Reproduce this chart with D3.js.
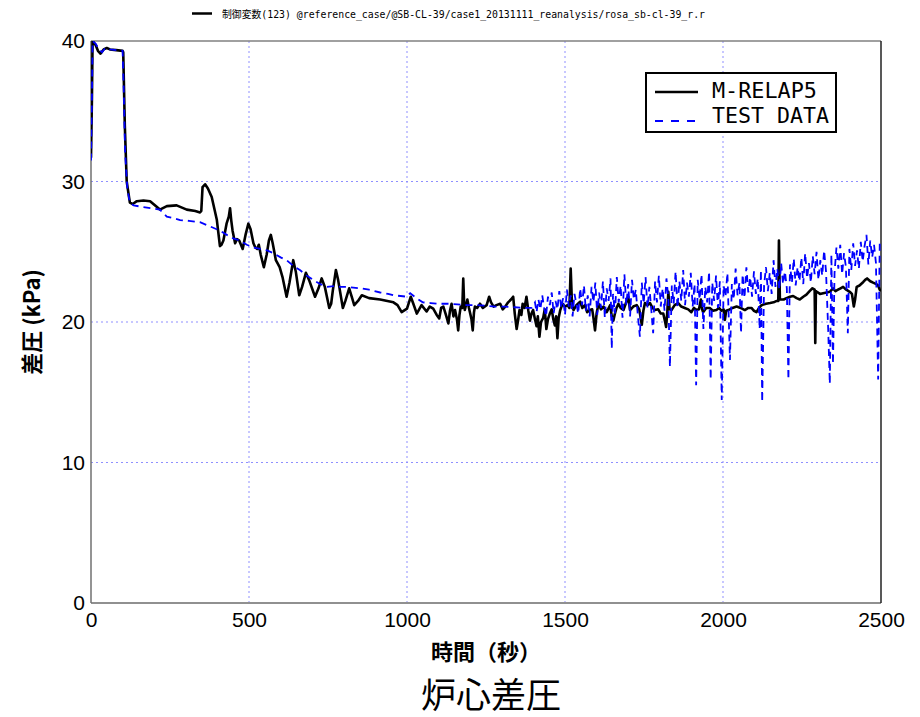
<!DOCTYPE html>
<html><head><meta charset="utf-8">
<script src="https://cdn.jsdelivr.net/npm/d3@7"></script>
<style>
html,body{margin:0;padding:0;background:#fff;}
svg{display:block;}
</style>
</head><body>
<svg id="chart" width="920" height="717"></svg>
<script>
// ---- data ----
const xTicks = [0, 500, 1000, 1500, 2000, 2500];
const yTicks = [0, 10, 20, 30, 40];
const seriesNames = ["M-RELAP5", "TEST DATA"];
const headerText = "制御変数(123) @reference_case/@SB-CL-39/case1_20131111_reanalysis/rosa_sb-cl-39_r.r";
const xLabel = "時間（秒）";
const yLabel = "差圧 (kPa)";
const chartTitle = "炉心差圧";

const relap = [[0,31.7],[3,36],[5,40.0],[15,39.7],[22,39.3],[30,39.1],[40,39.4],[50,39.5],[60,39.4],[80,39.35],[100,39.3],[102,39.2],[107,34],[113,30],[123,28.5],[132,28.4],[145,28.6],[166,28.65],[187,28.6],[205,28.25],[218,28.0],[240,28.25],[271,28.3],[303,28.0],[330,27.9],[345,27.8],[349,27.9],[353,29.6],[361,29.8],[370,29.5],[382,28.9],[390,28.1],[398,27.3],[408,25.4],[413,25.5],[419,25.8],[429,27.0],[436,27.5],[440,28.1],[444,27.2],[448,26.5],[456,25.6],[462,25.9],[469,25.8],[480,25.2],[489,26.2],[498,27.0],[505,26.6],[514,25.6],[520,25.3],[526,25.2],[531,25.5],[537,24.8],[547,23.9],[556,24.8],[563,25.8],[569,26.2],[575,25.6],[585,24.4],[597,23.9],[606,23.2],[619,21.8],[628,22.8],[640,24.4],[648,23.6],[659,21.9],[668,22.5],[680,23.5],[690,23.0],[709,21.8],[720,22.4],[730,23.1],[740,22.5],[754,21.0],[760,21.3],[765,22.2],[775,23.7],[782,23.0],[797,21.0],[805,21.5],[817,22.4],[825,21.8],[833,21.2],[845,21.5],[857,21.9],[880,21.7],[915,21.6],[957,21.4],[970,21.2],[983,20.7],[1000,20.95],[1012,21.8],[1020,21.3],[1031,20.6],[1046,21.2],[1062,20.75],[1072,21.1],[1083,20.95],[1094,20.5],[1102,20.25],[1108,21.0],[1115,21.1],[1122,20.6],[1131,19.9],[1136,20.8],[1141,21.3],[1147,20.4],[1152,20.85],[1158,20.2],[1162,19.4],[1166,20.5],[1170,21.1],[1175,21.0],[1178,23.1],[1181,21.2],[1183,20.85],[1191,21.6],[1196,21.0],[1200,20.6],[1204,20.2],[1208,19.4],[1212,20.7],[1215,21.1],[1222,21.0],[1231,21.3],[1240,21.0],[1252,21.2],[1260,21.8],[1266,21.4],[1274,21.1],[1283,21.2],[1295,21.3],[1303,20.9],[1311,21.1],[1320,21.4],[1329,21.6],[1336,21.8],[1341,20.6],[1347,19.5],[1352,20.2],[1356,20.85],[1362,20.5],[1366,21.3],[1372,21.0],[1378,21.8],[1384,20.8],[1389,20.1],[1394,20.6],[1399,20.85],[1404,20.3],[1410,19.7],[1414,20.4],[1419,18.95],[1424,20.0],[1431,20.3],[1436,20.9],[1441,19.5],[1446,20.2],[1452,20.6],[1458,20.9],[1463,20.2],[1468,19.75],[1472,20.4],[1476,18.85],[1480,20.3],[1485,20.85],[1492,21.3],[1500,21.1],[1508,21.2],[1514,21.0],[1518,23.8],[1522,21.3],[1527,20.85],[1536,21.2],[1548,21.45],[1555,21.0],[1563,21.2],[1570,20.7],[1579,20.85],[1586,20.9],[1590,20.3],[1595,19.4],[1600,20.6],[1606,21.3],[1614,20.9],[1622,21.1],[1632,20.7],[1643,21.2],[1648,20.4],[1653,20.1],[1658,20.6],[1663,21.0],[1669,21.3],[1676,21.0],[1685,20.85],[1692,21.3],[1700,21.8],[1706,20.85],[1716,21.1],[1727,21.2],[1735,20.9],[1743,19.8],[1748,20.8],[1753,21.35],[1761,21.2],[1769,21.35],[1777,21.0],[1785,20.85],[1795,20.9],[1803,20.6],[1811,20.6],[1816,20.1],[1820,19.65],[1824,20.8],[1827,22.15],[1831,20.9],[1837,20.85],[1847,21.2],[1858,21.35],[1868,21.1],[1879,21.0],[1890,20.9],[1900,20.7],[1908,21.0],[1916,20.85],[1924,20.9],[1930,21.6],[1934,20.9],[1937,20.7],[1947,21.0],[1958,21.0],[1968,20.8],[1979,20.85],[1988,21.0],[1995,20.8],[2002,20.9],[2006,20.15],[2010,20.8],[2017,20.85],[2030,21.0],[2043,21.1],[2056,21.0],[2069,20.85],[2080,21.0],[2090,21.0],[2098,20.8],[2106,20.7],[2114,21.0],[2122,21.2],[2136,21.3],[2149,21.35],[2160,21.4],[2170,21.5],[2175,21.5],[2177,25.8],[2180,21.6],[2183,21.6],[2192,21.6],[2201,21.7],[2212,21.8],[2222,21.85],[2233,21.7],[2243,21.6],[2254,21.8],[2264,21.95],[2274,22.2],[2283,22.4],[2290,22.3],[2292,18.5],[2294,22.2],[2297,22.15],[2307,22.0],[2317,22.05],[2328,22.1],[2338,22.15],[2348,22.4],[2356,22.2],[2364,22.3],[2372,22.4],[2380,22.5],[2390,22.3],[2401,22.15],[2408,22.0],[2414,21.1],[2418,21.6],[2423,22.5],[2432,22.6],[2444,22.85],[2450,23.0],[2456,23.1],[2466,22.9],[2475,22.8],[2485,22.7],[2491,22.6],[2496,22.3],[2500,22.2]];

const testData = [[0,31.5],[3,36],[5,40.0],[15,39.8],[25,39.4],[35,39.2],[45,39.5],[60,39.4],[80,39.35],[100,39.3],[103,37],[108,32],[115,29.5],[123,28.5],[135,28.3],[160,28.2],[190,28.1],[218,28.0],[240,27.5],[260,27.4],[282,27.25],[310,27.2],[345,27.1],[377,26.8],[408,26.5],[430,26.2],[450,25.95],[470,25.8],[493,25.5],[515,25.3],[536,25.2],[557,25.1],[577,24.9],[600,24.6],[619,24.4],[640,24.0],[661,23.7],[683,23.3],[703,23.0],[725,22.7],[746,22.5],[770,22.55],[790,22.5],[810,22.5],[830,22.45],[852,22.4],[880,22.3],[915,22.1],[940,22.0],[957,21.9],[980,21.85],[999,21.8],[1010,22.05],[1030,21.7],[1050,21.4],[1075,21.35],[1100,21.3],[1130,21.3],[1160,21.25],[1190,21.2],[1220,21.2],[1250,21.15],[1280,21.1],[1310,21.1],[1340,21.05],[1370,21.0],[1395,21.0],[1405,21.4],[1410,20.7],[1416,21.6],[1422,20.9],[1428,21.9],[1434,21.0],[1440,20.4],[1446,21.8],[1452,21.2],[1458,22.1],[1464,20.6],[1470,21.5],[1476,20.9],[1482,22.2],[1488,21.0],[1494,21.7],[1500,20.5],[1506,22.3],[1512,21.1],[1518,21.9],[1524,20.4],[1530,22.0],[1536,21.3],[1542,20.6],[1548,22.4],[1554,21.2],[1560,22.6],[1566,20.8],[1572,21.9],[1578,20.4],[1584,22.5],[1590,21.4],[1596,22.8],[1602,20.5],[1608,22.1],[1614,21.0],[1620,22.9],[1626,20.3],[1632,22.4],[1638,21.5],[1644,23.1],[1648,18.1],[1652,22.0],[1658,20.6],[1664,23.2],[1670,21.4],[1676,22.6],[1682,20.3],[1688,23.4],[1694,21.2],[1700,22.7],[1706,20.4],[1712,23.0],[1718,21.6],[1724,22.3],[1730,20.6],[1737,18.95],[1743,22.8],[1749,21.3],[1755,23.2],[1761,21.0],[1767,22.5],[1773,20.9],[1779,19.2],[1785,22.9],[1791,21.4],[1797,23.3],[1803,21.1],[1809,22.4],[1815,20.8],[1821,23.1],[1827,21.7],[1832,16.8],[1838,22.6],[1844,21.3],[1850,23.6],[1856,21.0],[1862,22.9],[1868,21.5],[1874,23.7],[1880,21.2],[1886,22.8],[1892,21.8],[1898,23.5],[1904,21.1],[1910,22.7],[1915,15.5],[1920,23.0],[1926,21.6],[1932,23.4],[1938,19.5],[1944,22.5],[1950,21.4],[1956,23.6],[1961,15.9],[1966,22.8],[1972,21.5],[1978,23.3],[1984,21.0],[1990,22.9],[1996,14.45],[2002,22.6],[2008,21.8],[2014,23.5],[2022,17.3],[2028,22.7],[2034,21.6],[2040,23.8],[2046,21.9],[2052,22.8],[2057,19.2],[2062,23.4],[2068,21.7],[2074,23.9],[2080,22.1],[2086,23.2],[2092,21.8],[2098,23.6],[2104,22.0],[2110,23.1],[2116,19.5],[2120,23.7],[2124,14.3],[2130,22.6],[2136,23.9],[2142,22.2],[2148,23.5],[2154,22.0],[2160,24.4],[2166,22.5],[2172,23.8],[2178,22.3],[2184,24.2],[2190,22.7],[2196,23.6],[2202,22.4],[2207,15.9],[2212,24.1],[2218,22.8],[2224,24.5],[2230,22.6],[2236,23.9],[2242,22.9],[2248,24.6],[2254,22.7],[2260,24.9],[2266,23.1],[2272,24.2],[2278,22.8],[2284,24.7],[2290,23.4],[2296,25.0],[2302,23.0],[2308,24.4],[2314,23.3],[2320,25.1],[2326,23.6],[2333,19.4],[2338,15.6],[2343,24.8],[2348,17.0],[2353,23.5],[2359,25.3],[2365,23.8],[2371,25.5],[2377,23.4],[2383,24.9],[2389,23.9],[2395,19.2],[2400,25.2],[2406,23.7],[2412,25.6],[2418,24.0],[2424,25.1],[2430,23.8],[2436,25.7],[2442,24.3],[2448,25.4],[2454,26.2],[2460,24.1],[2466,25.8],[2472,24.6],[2478,25.5],[2484,24.2],[2491,15.9],[2496,25.6],[2500,25.3]];

// ---- layout ----
const svg = d3.select("#chart");
const L = 91, R = 881, T = 41, B = 603;
const x = d3.scaleLinear().domain([0, 2500]).range([L, R]);
const y = d3.scaleLinear().domain([0, 40]).range([B, T]);

svg.append("defs").append("clipPath").attr("id", "clip")
  .append("rect").attr("x", L).attr("y", T).attr("width", R - L).attr("height", B - T);

// grid
const grid = svg.append("g");
grid.selectAll("line.vx").data(xTicks.filter(d => d > 0 && d < 2500)).join("line")
  .attr("x1", d => x(d)).attr("x2", d => x(d)).attr("y1", T).attr("y2", B)
  .attr("stroke", "#8f8fff").attr("stroke-width", 1).attr("stroke-dasharray", "2,3");
grid.selectAll("line.hy").data(yTicks.filter(d => d > 0 && d < 40)).join("line")
  .attr("x1", L).attr("x2", R).attr("y1", d => y(d)).attr("y2", d => y(d))
  .attr("stroke", "#8f8fff").attr("stroke-width", 1).attr("stroke-dasharray", "2,3");

// frame
svg.append("line").attr("x1", L).attr("x2", R).attr("y1", T).attr("y2", T).attr("stroke", "#808080").attr("stroke-width", 1.5);
svg.append("line").attr("x1", L).attr("x2", R).attr("y1", B).attr("y2", B).attr("stroke", "#909090").attr("stroke-width", 2);
svg.append("line").attr("x1", L).attr("x2", L).attr("y1", T).attr("y2", B).attr("stroke", "#707070").attr("stroke-width", 1.5);
svg.append("line").attr("x1", R).attr("x2", R).attr("y1", T).attr("y2", B).attr("stroke", "#222").attr("stroke-width", 1.5);

// lines
const line = d3.line().x(d => x(d[0])).y(d => y(d[1]));
const plot = svg.append("g").attr("clip-path", "url(#clip)");
plot.append("path").datum(relap).attr("d", line)
  .attr("fill", "none").attr("stroke", "#000").attr("stroke-width", 2.6).attr("stroke-linejoin", "round");
plot.append("path").datum(testData).attr("d", line)
  .attr("fill", "none").attr("stroke", "#0000ff").attr("stroke-width", 1.8).attr("stroke-dasharray", "7,5");

// axes
const tickFont = "'Liberation Sans', Arial, sans-serif";
const xAxis = svg.append("g").attr("transform", `translate(0,${B})`)
  .call(d3.axisBottom(x).tickValues(xTicks).tickSize(0).tickPadding(9).tickFormat(d3.format("d")));
xAxis.select(".domain").remove();
xAxis.selectAll("text").attr("font-family", tickFont).attr("font-size", 21).attr("fill", "#000");

const yAxis = svg.append("g").attr("transform", `translate(${L},0)`)
  .call(d3.axisLeft(y).tickValues(yTicks).tickSize(0).tickPadding(6).tickFormat(d3.format("d")));
yAxis.select(".domain").remove();
yAxis.selectAll("text").attr("font-family", tickFont).attr("font-size", 21).attr("fill", "#000");

// axis labels
const cjk = "'Noto Sans CJK JP', 'Noto Sans', sans-serif";
svg.append("text").attr("x", 486).attr("y", 660).attr("text-anchor", "middle")
  .attr("font-family", cjk).attr("font-size", 22).attr("font-weight", "bold").text(xLabel);
svg.append("text").attr("transform", "translate(40,322) rotate(-90)").attr("text-anchor", "middle")
  .attr("font-family", cjk).attr("font-size", 22).attr("font-weight", "bold").text(yLabel);
svg.append("text").attr("x", 491).attr("y", 708).attr("text-anchor", "middle")
  .attr("font-family", cjk).attr("font-size", 35).text(chartTitle);

// header
svg.append("line").attr("x1", 192).attr("x2", 212).attr("y1", 13.5).attr("y2", 13.5).attr("stroke", "#000").attr("stroke-width", 2.5);
svg.append("text").attr("x", 222).attr("y", 18).attr("font-family", "'DejaVu Sans Mono', 'Noto Sans CJK JP', monospace")
  .attr("font-size", 10).attr("textLength", 483).attr("lengthAdjust", "spacingAndGlyphs").text(headerText);

// legend
const lg = svg.append("g");
lg.append("rect").attr("x", 646).attr("y", 73).attr("width", 190).attr("height", 59)
  .attr("fill", "#fff").attr("stroke", "#000").attr("stroke-width", 2);
lg.append("line").attr("x1", 655).attr("x2", 698).attr("y1", 92).attr("y2", 92).attr("stroke", "#000").attr("stroke-width", 2.6);
lg.append("line").attr("x1", 655).attr("x2", 698).attr("y1", 121).attr("y2", 121).attr("stroke", "#0000ff").attr("stroke-width", 1.8).attr("stroke-dasharray", "8,8");
const legFont = "'DejaVu Sans Mono', 'Liberation Mono', monospace";
lg.append("text").attr("x", 712).attr("y", 98).attr("font-family", legFont).attr("font-size", 22)
  .attr("textLength", 105).attr("lengthAdjust", "spacingAndGlyphs").text(seriesNames[0]);
lg.append("text").attr("x", 712).attr("y", 123).attr("font-family", legFont).attr("font-size", 22)
  .attr("textLength", 117).attr("lengthAdjust", "spacingAndGlyphs").text(seriesNames[1]);
</script>
</body></html>
